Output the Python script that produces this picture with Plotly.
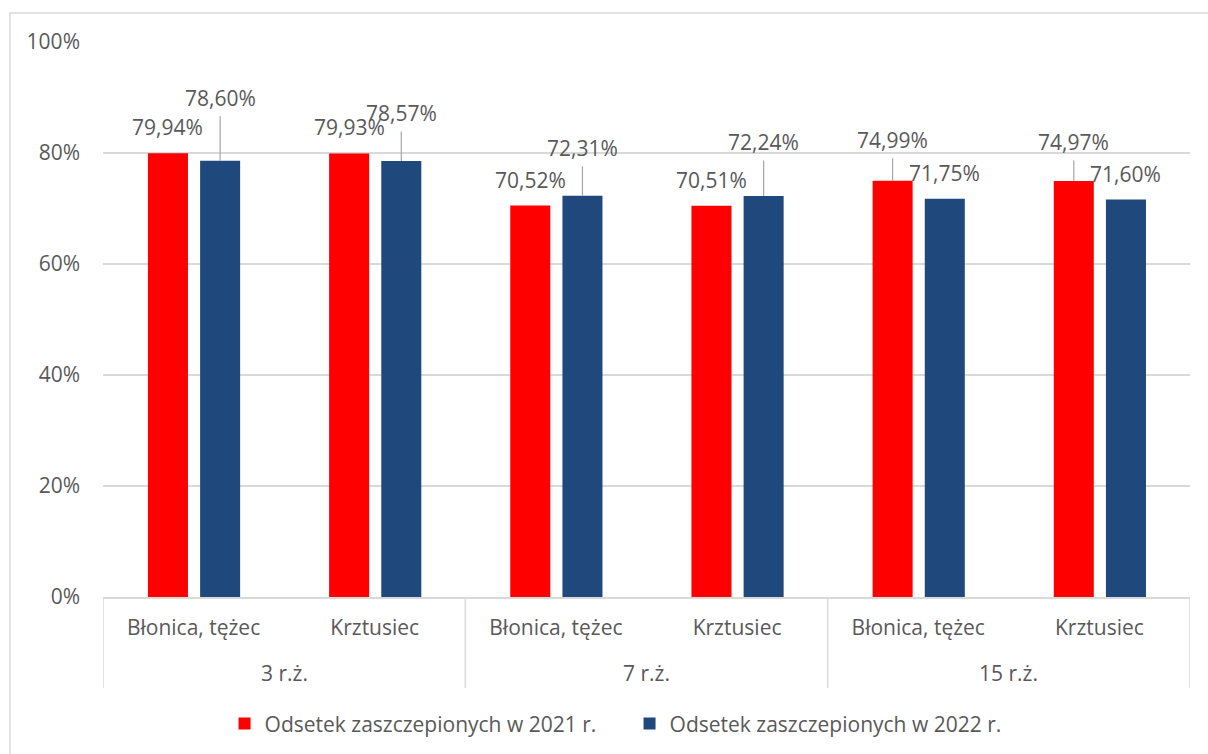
import plotly.graph_objects as go

# Age groups (outer level) and vaccines (inner level)
age_groups = ["3 r.ż.", "7 r.ż.", "15 r.ż."]
vaccines = ["Błonica, tężec", "Krztusiec", "Błonica, tężec", "Krztusiec",
            "Błonica, tężec", "Krztusiec"]

# Vaccination coverage, percent
coverage_2021 = [79.94, 79.93, 70.52, 70.51, 74.99, 74.97]
coverage_2022 = [78.60, 78.57, 72.31, 72.24, 71.75, 71.60]

series_names = ["Odsetek zaszczepionych w 2021 r.", "Odsetek zaszczepionych w 2022 r."]
y_ticks = [0, 20, 40, 60, 80, 100]

# Label placement: pixels above the bar top; labels lifted clear of the
# neighbouring label get a leader line
lift_2021 = [26, 26, 26, 26, 41, 39]
lift_2022 = [63, 48, 48, 54, 26, 26]
leader_2021 = [False, False, False, False, True, True]
leader_2022 = [True, True, True, True, False, False]

RED = "#ff0000"
BLUE = "#1f497d"
TEXT = "#595959"
GRID = "#d9d9d9"
FONT = "Open Sans, Liberation Sans, sans-serif"
FS = 21

BAR_W = 0.221
OFF_2021 = -0.252
OFF_2022 = 0.036

per_group = len(vaccines) // len(age_groups)
idx = list(range(len(vaccines)))

fig = go.Figure()
fig.add_trace(go.Bar(x=idx, y=coverage_2021, name=series_names[0],
                     marker=dict(color=RED, line=dict(width=0)),
                     width=BAR_W, offset=OFF_2021))
fig.add_trace(go.Bar(x=idx, y=coverage_2022, name=series_names[1],
                     marker=dict(color=BLUE, line=dict(width=0)),
                     width=BAR_W, offset=OFF_2022))


def fmt(v):
    return f"{v:.2f}%".replace(".", ",")


def add_labels(values, offset, lifts, leaders):
    for i, (v, lift, lead) in enumerate(zip(values, lifts, leaders)):
        cx = i + offset + BAR_W / 2
        if lead:
            fig.add_annotation(x=cx, y=v, xref="x", yref="y", text=fmt(v),
                               showarrow=True, arrowhead=0, arrowwidth=1.2,
                               arrowcolor="#a6a6a6", ax=0, ay=-lift,
                               standoff=0, borderpad=4,
                               font=dict(family=FONT, size=FS, color=TEXT))
        else:
            fig.add_annotation(x=cx, y=v, xref="x", yref="y", text=fmt(v),
                               showarrow=False, yshift=lift,
                               font=dict(family=FONT, size=FS, color=TEXT))


add_labels(coverage_2021, OFF_2021, lift_2021, leader_2021)
add_labels(coverage_2022, OFF_2022, lift_2022, leader_2022)

# Outer category level: group labels and the dividers between groups
for g, name in enumerate(age_groups):
    centre = g * per_group + (per_group - 1) / 2
    fig.add_annotation(x=centre, y=0, xref="x", yref="paper", text=name,
                       showarrow=False, yshift=-76, yanchor="middle",
                       font=dict(family=FONT, size=FS, color=TEXT))
for g in range(len(age_groups) + 1):
    edge = g * per_group - 0.5
    fig.add_shape(type="line", xref="x", yref="paper", x0=edge, x1=edge,
                  ysizemode="pixel", yanchor=0, y0=0, y1=-91,
                  line=dict(color=GRID, width=1.5))

# Chart frame
fig.add_shape(type="rect", xref="paper", yref="paper",
              x0=-0.0856, x1=1.03, y0=-0.32, y1=1.0523,
              line=dict(color=GRID, width=1.5), fillcolor="rgba(0,0,0,0)",
              layer="below")

fig.update_layout(
    width=1208, height=754,
    margin=dict(l=103, r=18, t=42, b=157),
    paper_bgcolor="white", plot_bgcolor="white",
    font=dict(family=FONT, size=FS, color=TEXT),
    barmode="group",
    showlegend=True,
    legend=dict(orientation="h", x=0.4844, xanchor="center",
                yref="container", y=0.04, yanchor="middle",
                font=dict(family=FONT, size=FS, color=TEXT),
                itemwidth=30, traceorder="normal", entrywidth=360),
    xaxis=dict(range=[-0.5, len(vaccines) - 0.5], tickvals=idx, ticktext=vaccines,
               showline=True, linecolor=GRID, linewidth=1.5, zeroline=False,
               ticks="", showgrid=False, ticklabelstandoff=11,
               tickfont=dict(family=FONT, size=FS, color=TEXT)),
    yaxis=dict(range=[0, 100], tickvals=y_ticks,
               ticktext=[f"{t}%" for t in y_ticks],
               showgrid=True, gridcolor=GRID, gridwidth=1.5, zeroline=False,
               showline=False, ticks="", ticklabelstandoff=22,
               tickfont=dict(family=FONT, size=FS, color=TEXT)),
)

fig.write_html("out.html")
